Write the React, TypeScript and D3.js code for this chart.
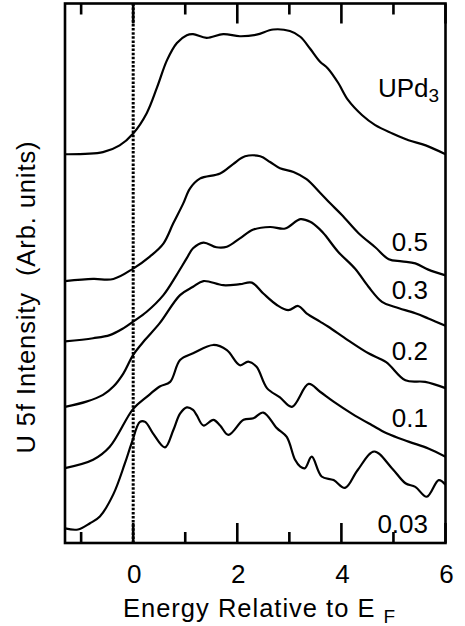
import React from 'react';
import * as d3 from 'd3';

// energy / intensity pairs (intensity in arb. units, offsets included)
const upd3E = [-1.31, -0.58, -0.26, 0, 0.26, 0.46, 0.65, 0.84, 1.03, 1.15, 1.41, 1.73, 2.05, 2.37, 2.69, 3.01, 3.21, 3.4, 3.59, 3.74, 3.94, 4.13, 4.4, 4.65, 4.98, 5.29, 5.62, 6.0];
const upd3I = [7.48, 7.52, 7.65, 7.88, 8.27, 8.77, 9.29, 9.62, 9.77, 9.79, 9.72, 9.79, 9.75, 9.78, 9.88, 9.85, 9.74, 9.51, 9.26, 9.13, 8.85, 8.52, 8.23, 8.04, 7.88, 7.75, 7.65, 7.48];

const x05E = [-1.31, -0.77, -0.38, 0, 0.32, 0.58, 0.77, 0.96, 1.09, 1.28, 1.67, 1.92, 2.15, 2.44, 2.63, 2.82, 3.08, 3.33, 3.59, 3.78, 4.01, 4.33, 4.65, 4.91, 5.16, 5.42, 5.67, 6.0];
const x05I = [5.04, 5.08, 5.08, 5.28, 5.51, 5.76, 6.15, 6.53, 6.82, 7.01, 7.11, 7.29, 7.44, 7.44, 7.33, 7.21, 7.14, 7.0, 6.74, 6.54, 6.31, 5.96, 5.69, 5.46, 5.42, 5.38, 5.26, 5.15];

const x03E = [-1.31, -0.77, -0.45, -0.19, 0, 0.26, 0.58, 0.83, 1.03, 1.15, 1.35, 1.6, 1.8, 2.05, 2.31, 2.63, 2.92, 3.21, 3.4, 3.59, 3.69, 3.94, 4.26, 4.52, 4.78, 5.03, 5.42, 5.67, 6.0];
const x03I = [3.88, 3.94, 4.0, 4.13, 4.26, 4.45, 4.77, 5.15, 5.48, 5.67, 5.78, 5.69, 5.7, 5.86, 6.03, 6.08, 6.05, 6.23, 6.18, 6.03, 5.92, 5.6, 5.28, 4.93, 4.64, 4.54, 4.42, 4.32, 4.18];

const x02E = [-1.31, -0.9, -0.58, -0.38, -0.19, 0, 0.22, 0.51, 0.9, 1.15, 1.35, 1.73, 2.05, 2.28, 2.5, 2.76, 2.98, 3.17, 3.33, 3.59, 3.75, 4.13, 4.52, 4.86, 5.23, 5.61, 6.0];
const x02I = [2.62, 2.72, 2.85, 3.01, 3.26, 3.62, 3.9, 4.23, 4.77, 4.93, 5.04, 4.96, 4.98, 5.01, 4.8, 4.58, 4.48, 4.56, 4.42, 4.26, 4.16, 3.9, 3.65, 3.48, 3.13, 3.1, 2.98];

const x01E = [-1.31, -0.77, -0.45, 0, 0.26, 0.51, 0.71, 0.9, 1.15, 1.54, 1.8, 2.05, 2.21, 2.37, 2.57, 2.82, 3.05, 3.37, 3.59, 3.85, 4.2, 4.58, 4.87, 5.29, 5.67, 6.0];
const x01I = [1.44, 1.6, 1.85, 2.58, 2.81, 3.01, 3.1, 3.52, 3.65, 3.81, 3.71, 3.42, 3.49, 3.39, 2.98, 2.8, 2.62, 3.06, 2.91, 2.72, 2.49, 2.27, 2.11, 1.95, 1.82, 1.66];

const x003E = [-1.31, -1.06, -0.83, -0.64, -0.38, -0.16, -0.03, 0.13, 0.23, 0.38, 0.61, 0.77, 0.9, 1.03, 1.15, 1.22, 1.35, 1.54, 1.67, 1.83, 2.12, 2.31, 2.5, 2.76, 2.95, 3.11, 3.21, 3.3, 3.43, 3.62, 3.85, 4.07, 4.31, 4.63, 4.97, 5.23, 5.42, 5.64, 5.87, 6.0];
const x003I = [0.28, 0.26, 0.38, 0.51, 0.94, 1.53, 1.92, 2.33, 2.33, 2.11, 1.84, 2.17, 2.49, 2.61, 2.56, 2.46, 2.26, 2.37, 2.26, 2.08, 2.37, 2.4, 2.51, 2.21, 2.04, 1.6, 1.47, 1.44, 1.66, 1.28, 1.21, 1.06, 1.4, 1.76, 1.44, 1.15, 1.08, 0.89, 1.21, 1.12];

const curveLabels = ['UPd', '0.5', '0.3', '0.2', '0.1', '0.03'];
const majorTicks = [0, 2, 4, 6];
const minorTicks = [-1, 1, 3, 5];

const width = 465,
  height = 626,
  margin = { top: 3.5, right: 19.5, bottom: 83, left: 65 };
const font = 'Liberation Sans, Arial, Helvetica, sans-serif';

const App = () => {
  const x = d3.scaleLinear().domain([-1.31, 6]).range([margin.left, width - margin.right]);
  const y = d3.scaleLinear().domain([0, 10.38]).range([height - margin.bottom, margin.top]);
  const bottom = height - margin.bottom;
  const top = margin.top;

  const series = [
    [upd3E, upd3I],
    [x05E, x05I],
    [x03E, x03I],
    [x02E, x02I],
    [x01E, x01I],
    [x003E, x003I],
  ].map(([es, is]) => es.map((e, i) => [e, is[i]] as [number, number]));

  const line = d3
    .line<[number, number]>()
    .x(d => x(d[0]))
    .y(d => y(d[1]))
    .curve(d3.curveCatmullRom.alpha(0.5));

  // tick marks drawn as one path: inward from both top and bottom edges
  const tickPath = (vals: number[], len: number) =>
    vals.map(v => `M${x(v)},${bottom}v${-len}M${x(v)},${top}v${len}`).join('');

  const labelY = [97, 251, 299, 360, 427, 533];

  return (
    <svg
      width={width}
      height={height}
      style={{ position: 'absolute', left: 0, top: 0, display: 'block', background: '#fff' }}
    >
      {/* Fermi level marker */}
      <path
        d={`M${x(0)},${top}V${bottom}`}
        stroke="#000" strokeWidth={3} strokeDasharray="2.5,1.6" fill="none"
      />

      {series.map((s, i) => (
        <path key={i} d={line(s) || ''} fill="none" stroke="#000" strokeWidth={2.2} strokeLinejoin="round" />
      ))}

      <rect
        x={x(-1.31)} y={top} width={x(6) - x(-1.31)} height={bottom - top}
        fill="none" stroke="#000" strokeWidth={2.6}
      />

      <path d={tickPath(majorTicks, 20)} stroke="#000" strokeWidth={2.6} fill="none" />
      <path d={tickPath(minorTicks, 11)} stroke="#000" strokeWidth={2.6} fill="none" />

      {majorTicks.map(v => (
        <text key={v} x={x(v) + 1} y={583} textAnchor="middle" fontFamily={font} fontSize={26}>
          {v}
        </text>
      ))}

      <text x={123} y={617} fontFamily={font} fontSize={25.5} letterSpacing={1}>
        Energy Relative to E
        <tspan dx={8} dy={6} fontSize={19}>F</tspan>
      </text>

      <text
        transform="translate(35,297) rotate(-90)"
        textAnchor="middle"
        fontFamily={font}
        fontSize={25.5}
        letterSpacing={0.9}
        style={{ whiteSpace: 'pre' }}
      >
        {'U 5f Intensity  (Arb. units)'}
      </text>

      {curveLabels.map((lab, i) =>
        i === 0 ? (
          <text key={i} x={378} y={labelY[i]} fontFamily={font} fontSize={26}>
            {lab}
            <tspan dy={5} fontSize={19}>3</tspan>
          </text>
        ) : (
          <text key={i} x={428} y={labelY[i]} textAnchor="end" fontFamily={font} fontSize={26}>
            {lab}
          </text>
        )
      )}
    </svg>
  );
};

export default App;
